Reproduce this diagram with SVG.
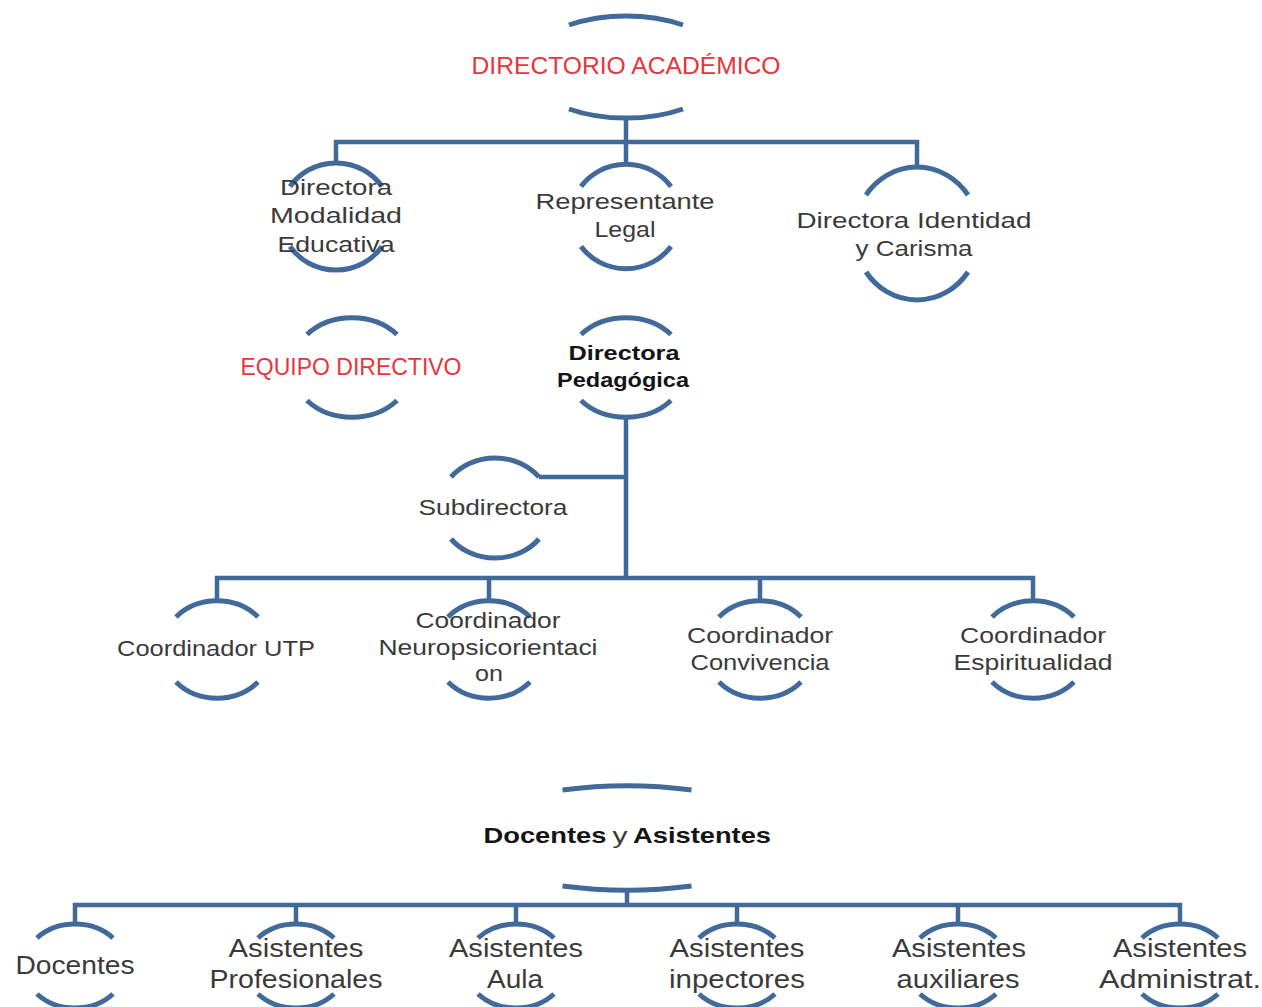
<svg xmlns="http://www.w3.org/2000/svg" width="1262" height="1007" viewBox="0 0 1262 1007">
<style>
.arc{fill:none;stroke:#41699A;stroke-width:5}
.con{fill:none;stroke:#41699A;stroke-width:4.5}
text{font-family:"Liberation Sans",Arial,sans-serif;text-anchor:middle}
.t{fill:#3A3A3A;font-size:22px}
.r{fill:#E8343C;font-size:24px}
.b{fill:#141414;font-size:21px;font-weight:bold}
.s{fill:#3A3A3A;font-size:25px}
</style>
<rect width="1262" height="1007" fill="#ffffff"/>
<g id="connectors" class="con">
<path d="M626,118 V142 M336,164 V142 H917 V168 M626,142 V164"/>
<path d="M626,418 V578 M626,477 H539 M217,601 V578 H1033 V601 M489,578 V601 M760,578 V601"/>
<path d="M627,890 V905 M75,924 V905 H1180 V924 M296,905 V924 M516,905 V924 M737,905 V924 M958,905 V924"/>
</g>
<g id="n-directorio">
<path class="arc" d="M569,25 A100,51 0 0 1 683,25 M569,109 A100,51 0 0 0 683,109"/>
<text class="r" x="626" y="74" textLength="309" lengthAdjust="spacingAndGlyphs">DIRECTORIO ACADÉMICO</text>
</g>
<g id="n-modalidad">
<path class="arc" d="M290,186.5 A55.5,53.5 0 0 1 382,186.5 M290,246.5 A55.5,53.5 0 0 0 382,246.5"/>
<text class="t" x="336" y="195" textLength="112" lengthAdjust="spacingAndGlyphs">Directora</text>
<text class="t" x="336" y="223" textLength="132" lengthAdjust="spacingAndGlyphs">Modalidad</text>
<text class="t" x="336" y="252" textLength="117" lengthAdjust="spacingAndGlyphs">Educativa</text>
</g>
<g id="n-representante">
<path class="arc" d="M581,186.5 A55.5,53.5 0 0 1 671,186.5 M581,246.5 A55.5,53.5 0 0 0 671,246.5"/>
<text class="t" x="625" y="209" textLength="179" lengthAdjust="spacingAndGlyphs">Representante</text>
<text class="t" x="625" y="237" textLength="61" lengthAdjust="spacingAndGlyphs">Legal</text>
</g>
<g id="n-identidad">
<path class="arc" d="M866,195 A62.6,66.5 0 0 1 968,195 M866,272 A62.6,66.5 0 0 0 968,272"/>
<text class="t" x="914" y="228" textLength="235" lengthAdjust="spacingAndGlyphs">Directora Identidad</text>
<text class="t" x="914" y="256" textLength="117" lengthAdjust="spacingAndGlyphs">y Carisma</text>
</g>
<g id="n-equipo">
<path class="arc" d="M307,334.5 A60,49.5 0 0 1 397,334.5 M307,400.5 A60,49.5 0 0 0 397,400.5"/>
<text class="r" x="351" y="375" font-size="22" textLength="221" lengthAdjust="spacingAndGlyphs">EQUIPO DIRECTIVO</text>
</g>
<g id="n-pedagogica">
<path class="arc" d="M581,334.5 A60,49.5 0 0 1 671,334.5 M581,400.5 A60,49.5 0 0 0 671,400.5"/>
<text class="b" x="624" y="360" textLength="111" lengthAdjust="spacingAndGlyphs">Directora</text>
<text class="b" x="623" y="387" textLength="132" lengthAdjust="spacingAndGlyphs">Pedagógica</text>
</g>
<g id="n-subdirectora">
<path class="arc" d="M451,477 A56,50 0 0 1 539,477 M451,539 A56,50 0 0 0 539,539"/>
<text class="t" x="493" y="515" textLength="149" lengthAdjust="spacingAndGlyphs">Subdirectora</text>
</g>
<g id="n-utp">
<path class="arc" d="M176,617 A55,48.5 0 0 1 258,617 M176,682 A55,48.5 0 0 0 258,682"/>
<text class="t" x="216" y="656" textLength="198" lengthAdjust="spacingAndGlyphs">Coordinador UTP</text>
</g>
<g id="n-neuro">
<path class="arc" d="M448,617 A55,48.5 0 0 1 530,617 M448,682 A55,48.5 0 0 0 530,682"/>
<text class="t" x="488" y="628" textLength="145" lengthAdjust="spacingAndGlyphs">Coordinador</text>
<text class="t" x="488" y="655" textLength="219" lengthAdjust="spacingAndGlyphs">Neuropsicorientaci</text>
<text class="t" x="489" y="681" textLength="28" lengthAdjust="spacingAndGlyphs">on</text>
</g>
<g id="n-convivencia">
<path class="arc" d="M719,617 A55,48.5 0 0 1 801,617 M719,682 A55,48.5 0 0 0 801,682"/>
<text class="t" x="760" y="643" textLength="146" lengthAdjust="spacingAndGlyphs">Coordinador</text>
<text class="t" x="760" y="670" textLength="139" lengthAdjust="spacingAndGlyphs">Convivencia</text>
</g>
<g id="n-espiritualidad">
<path class="arc" d="M992,617 A55,48.5 0 0 1 1074,617 M992,682 A55,48.5 0 0 0 1074,682"/>
<text class="t" x="1033" y="643" textLength="146" lengthAdjust="spacingAndGlyphs">Coordinador</text>
<text class="t" x="1033" y="670" textLength="159" lengthAdjust="spacingAndGlyphs">Espiritualidad</text>
</g>
<g id="n-docentes-asistentes">
<path class="arc" d="M562.5,790 A166,52 0 0 1 691.5,790 M562.5,886 A166,52 0 0 0 691.5,886"/>
<text y="843" font-size="22"><tspan x="545" fill="#141414" font-weight="bold" textLength="123" lengthAdjust="spacingAndGlyphs">Docentes</tspan><tspan x="620" fill="#3A3A3A" textLength="15" lengthAdjust="spacingAndGlyphs">y</tspan><tspan x="702" fill="#141414" font-weight="bold" textLength="138" lengthAdjust="spacingAndGlyphs">Asistentes</tspan></text>
</g>
<g id="n-docentes">
<path class="arc" d="M37,938 A51,42 0 0 1 113,938 M37,994 A51,42 0 0 0 113,994"/>
<text class="s" x="75" y="974" textLength="119" lengthAdjust="spacingAndGlyphs">Docentes</text>
</g>
<g id="n-profesionales">
<path class="arc" d="M258,938 A51,42 0 0 1 334,938 M258,994 A51,42 0 0 0 334,994"/>
<text class="s" x="296" y="957" textLength="135" lengthAdjust="spacingAndGlyphs">Asistentes</text>
<text class="s" x="296" y="988" textLength="173" lengthAdjust="spacingAndGlyphs">Profesionales</text>
</g>
<g id="n-aula">
<path class="arc" d="M478,938 A51,42 0 0 1 554,938 M478,994 A51,42 0 0 0 554,994"/>
<text class="s" x="516" y="957" textLength="134" lengthAdjust="spacingAndGlyphs">Asistentes</text>
<text class="s" x="515" y="988" textLength="56" lengthAdjust="spacingAndGlyphs">Aula</text>
</g>
<g id="n-inpectores">
<path class="arc" d="M699,938 A51,42 0 0 1 775,938 M699,994 A51,42 0 0 0 775,994"/>
<text class="s" x="737" y="957" textLength="135" lengthAdjust="spacingAndGlyphs">Asistentes</text>
<text class="s" x="737" y="988" textLength="136" lengthAdjust="spacingAndGlyphs">inpectores</text>
</g>
<g id="n-auxiliares">
<path class="arc" d="M920,938 A51,42 0 0 1 996,938 M920,994 A51,42 0 0 0 996,994"/>
<text class="s" x="959" y="957" textLength="134" lengthAdjust="spacingAndGlyphs">Asistentes</text>
<text class="s" x="958" y="988" textLength="123" lengthAdjust="spacingAndGlyphs">auxiliares</text>
</g>
<g id="n-administrat">
<path class="arc" d="M1142,938 A51,42 0 0 1 1218,938 M1142,994 A51,42 0 0 0 1218,994"/>
<text class="s" x="1180" y="957" textLength="134" lengthAdjust="spacingAndGlyphs">Asistentes</text>
<text class="s" x="1180" y="988" textLength="162" lengthAdjust="spacingAndGlyphs">Administrat.</text>
</g>
</svg>
